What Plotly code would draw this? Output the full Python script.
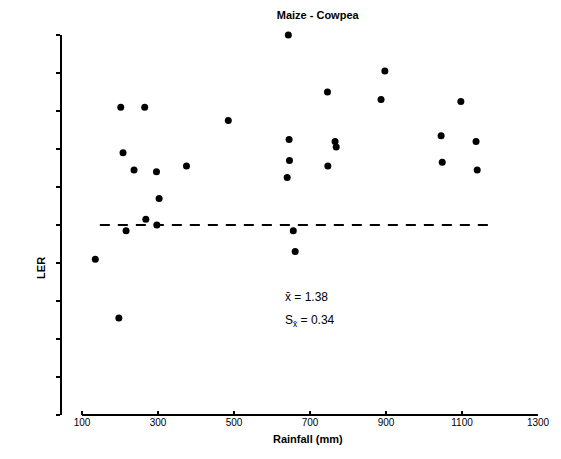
import plotly.graph_objects as go

# rainfall (mm) and LER
rainfall = [135, 197, 202, 208, 216, 237, 265, 268, 296, 297,
            303, 375, 485, 643, 645, 646, 640, 656, 661, 746,
            747, 766, 769, 897, 887, 1045, 1048, 1097, 1137, 1140]
ler = [1.20, 0.89, 2.00, 1.76, 1.35, 1.67, 2.00, 1.41, 1.66, 1.38,
       1.52, 1.69, 1.93, 2.38, 1.83, 1.72, 1.63, 1.35, 1.24, 2.08,
       1.69, 1.82, 1.79, 2.19, 2.04, 1.85, 1.71, 2.03, 1.82, 1.67]

mean_x = [147, 1175]
mean_ler = 1.38
sd_ler = 0.34

x_ticks = [100, 300, 500, 700, 900, 1100, 1300]
y_ticks = [0.38 + 0.2 * i for i in range(11)]

font = "Liberation Sans, Arial, sans-serif"

fig = go.Figure()

fig.add_trace(go.Scatter(
    x=mean_x, y=[mean_ler, mean_ler],
    mode="lines",
    line=dict(color="black", width=2, dash="10px,8px"),
    showlegend=False, hoverinfo="skip",
))

fig.add_trace(go.Scatter(
    x=rainfall, y=ler,
    mode="markers",
    marker=dict(color="black", size=7),
    cliponaxis=False,
    showlegend=False,
))

# page body has an 8px margin, so the figure is a bit smaller than the window
fig.update_layout(
    width=553, height=451,
    margin=dict(l=54, r=23, t=27, b=44),
    plot_bgcolor="white", paper_bgcolor="white",
    font=dict(family=font, color="black"),
    title=dict(text="<b>Maize - Cowpea</b>", x=0.56, xanchor="center",
               y=0.984, yanchor="middle", font=dict(size=11)),
    xaxis=dict(range=[47.4, 1300], showgrid=False, zeroline=False,
               showline=False, tickvals=x_ticks,
               ticktext=[str(v) for v in x_ticks],
               ticks="inside", ticklen=4, tickwidth=1.5, tickcolor="black",
               tickfont=dict(size=10, family=font)),
    yaxis=dict(range=[0.38, 2.38], showgrid=False, zeroline=False,
               showline=True, linecolor="black", linewidth=2,
               tickvals=y_ticks, showticklabels=False,
               ticks="outside", ticklen=4, tickwidth=2, tickcolor="black"),
    shapes=[dict(type="line", xref="x", yref="paper", x0=100, x1=1300,
                 y0=0, y1=0, line=dict(color="black", width=2))],
    annotations=[
        dict(text="<b>LER</b>", xref="paper", yref="paper", x=-0.061, y=0.387,
             textangle=-90, showarrow=False, font=dict(size=11)),
        dict(text="<b>Rainfall (mm)</b>", xref="paper", yref="paper",
             x=0.517, y=-0.084, showarrow=False, font=dict(size=11)),
        dict(text="x\u0304 = " + "%.2f" % mean_ler, xref="x", yref="y",
             x=630, y=1.0, xanchor="left", showarrow=False,
             font=dict(size=12)),
        dict(text="S<sub>x\u0304</sub> = " + "%.2f" % sd_ler, xref="x", yref="y",
             x=630, y=0.875, xanchor="left", showarrow=False,
             font=dict(size=12)),
    ],
)

fig.write_html("out.html")
